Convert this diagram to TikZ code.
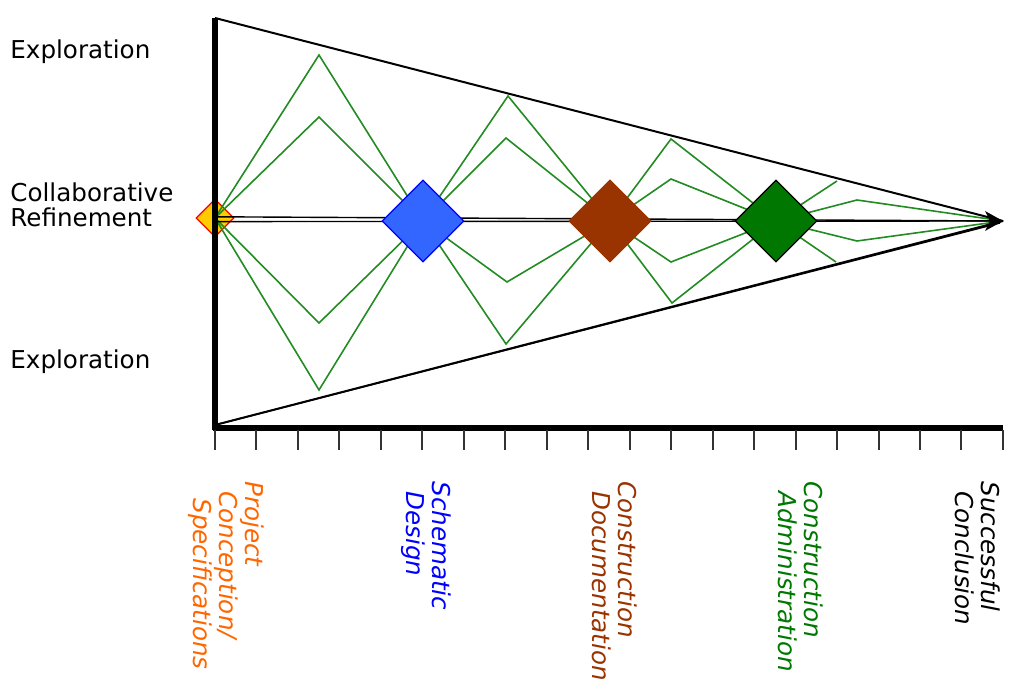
\documentclass[tikz,border=0pt]{standalone}
\usepackage{fontspec}
\setmainfont{DejaVu Sans}
\usetikzlibrary{shapes.geometric}

\definecolor{zig}{RGB}{34,139,34}
\definecolor{conceptgold}{RGB}{255,204,0}
\definecolor{projorange}{RGB}{255,102,0}
\definecolor{schemblue}{RGB}{51,102,255}
\definecolor{docbrown}{RGB}{153,51,0}
\definecolor{admgreen}{RGB}{0,119,0}

\tikzset{
  phase/.style={diamond, draw, inner sep=0pt, minimum width=41pt, minimum height=41pt, line width=0.6pt},
  zigline/.style={zig, line width=0.8pt},
  milestone/.style={rotate=-90, anchor=north west, align=left, inner sep=0pt, font=\fontsize{12.3}{13}\selectfont\itshape},
  side/.style={anchor=north west, align=left, inner sep=0pt, font=\fontsize{12.3}{12.5}\selectfont}
}

\begin{document}
\begin{tikzpicture}[x=0.5pt, y=-0.5pt]
  \useasboundingbox (0,0) rectangle (1024,694);

  % milestones along the centre line
  \coordinate (p0) at (215,218);
  \coordinate (p1) at (423,221);
  \coordinate (p2) at (610,221);
  \coordinate (p3) at (776,221);
  \coordinate (tip) at (1003,221);
  \coordinate (top) at (215,18);
  \coordinate (corner) at (215,430);
  \coordinate (xend) at (1003,428);

  \node[phase, fill=conceptgold, draw=red, minimum width=19pt, minimum height=19pt] (conc) at (p0) {};

  % exploration zig-zags
  \draw[zigline] (conc.center) -- (319,55) -- (p1) -- (508,96) -- (p2) -- (671,139) -- (p3) -- (837,181);
  \draw[zigline] (conc.center) -- (319,117) -- (p1) -- (506,138) -- (p2) -- (671,179) -- (p3) -- (857,200) -- (tip);
  \draw[zigline] (conc.center) -- (319,323) -- (p1) -- (507,282) -- (p2) -- (671,262) -- (p3) -- (857,241) -- (tip);
  \draw[zigline] (conc.center) -- (319,390) -- (p1) -- (506,344) -- (p2) -- (672,303) -- (p3) -- (836,262);

  % cone
  \draw[line width=1pt] (top) -- (tip);
  \draw[line width=1pt] (215,425) -- (tip);
  \draw[line width=0.7pt] (215,425) -- (1000,223);
  \draw[line width=0.7pt] (215,216.8) -- (tip);
  \draw[line width=0.7pt] (215,221.6) -- (tip);
  % arrow head at the conclusion
  \fill (tip) -- (985,211) -- (990,221) -- (985,231) -- cycle;

  % axes
  \draw[line width=2.6pt] (top) -- (corner);
  \draw[line width=2.6pt] (213,428) -- (xend);
  \foreach \i in {0,...,19}
    \draw[line width=1pt, black!80] (215+\i*41.47,430) -- (215+\i*41.47,450);

  \node[phase, fill=schemblue, draw=blue] (schem) at (p1) {};
  \node[phase, fill=docbrown, draw=docbrown] (constr) at (p2) {};
  \node[phase, fill=admgreen, draw=black] (admin) at (p3) {};

  \node[side] (explup) at (10,39) {Exploration};
  \node[side] (refine) at (10,182) {Collaborative\\Refinement};
  \node[side] (expldown) at (10,349) {Exploration};

  \node[milestone, text=projorange] (lproj) at (265,481) {Project\\\hspace*{5pt}Conception/\\\hspace*{8.5pt}Specifications};
  \node[milestone, text=blue] (lschem) at (452,481) {Schematic\\\hspace*{5pt}Design};
  \node[milestone, text=docbrown] (lconstr) at (638,481) {Construction\\\hspace*{5pt}Documentation};
  \node[milestone, text=admgreen] (ladmin) at (824,481) {Construction\\\hspace*{5pt}Administration};
  \node[milestone] (lend) at (1001,481) {Successful\\\hspace*{5pt}Conclusion};
\end{tikzpicture}
\end{document}
